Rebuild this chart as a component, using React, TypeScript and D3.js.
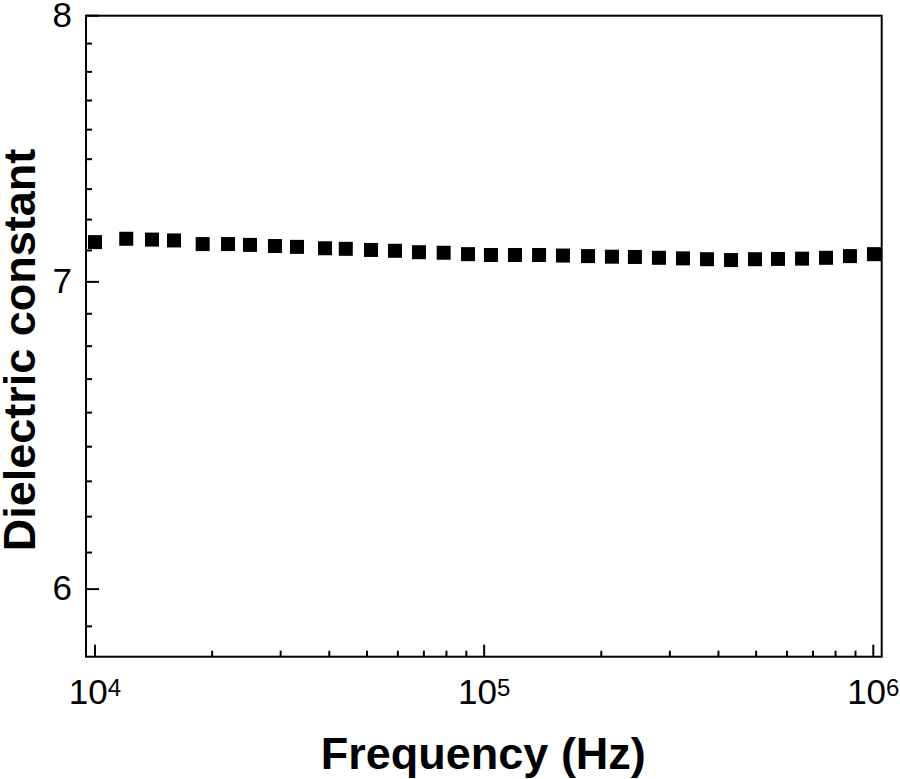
import React, { useEffect, useRef } from 'react';
import * as d3 from 'd3';

const frequencies = [
  1.0e4, 1.203e4, 1.401e4, 1.596e4, 1.891e4, 2.197e4, 2.502e4, 2.9e4, 3.304e4,
  3.9e4, 4.41e4, 5.12e4, 5.9e4, 6.8e4, 7.87e4, 9.09e4, 1.041e5, 1.2e5, 1.384e5,
  1.594e5, 1.849e5, 2.13e5, 2.44e5, 2.813e5, 3.243e5, 3.738e5, 4.31e5, 4.966e5,
  5.69e5, 6.56e5, 7.56e5, 8.71e5, 1.004e6
];

const dielectric = [
  7.141, 7.153, 7.15, 7.147, 7.134, 7.134, 7.131, 7.127, 7.124, 7.119, 7.117,
  7.113, 7.11, 7.105, 7.103, 7.098, 7.095, 7.095, 7.095, 7.093, 7.091, 7.089,
  7.088, 7.085, 7.083, 7.08, 7.077, 7.08, 7.081, 7.082, 7.085, 7.091, 7.098
];

const xDomain = [9481, 1.051e6];
const yDomain = [5.8, 8];
const xMajorTicks = [1e4, 1e5, 1e6];
const yMajorTicks = [6, 7, 8];
const yMinorPerMajor = 8;

const FONT = '"Liberation Sans", Arial, sans-serif';

const App: React.FC = () => {
  const svgRef = useRef<SVGSVGElement>(null);

  useEffect(() => {
    if (!svgRef.current) {
      return;
    }

    const svg = d3.select(svgRef.current);
    svg.selectAll('*').remove();

    const left = 86;
    const right = 881.7;
    const top = 15.7;
    const bottom = 656.7;

    const x = d3.scaleLog().domain(xDomain).range([left, right]);
    const y = d3.scaleLog().domain(yDomain).range([bottom, top]);

    // frame
    svg
      .append('rect')
      .attr('x', left)
      .attr('y', top)
      .attr('width', right - left)
      .attr('height', bottom - top)
      .attr('fill', 'none')
      .attr('stroke', '#000')
      .attr('stroke-width', 2);

    // y minor ticks: 8 subdivisions per unit
    const step = 1 / (yMinorPerMajor + 1);
    const yMinor: number[] = [];
    for (let m = 5; m < 8; m++) {
      for (let k = 1; k <= yMinorPerMajor; k++) {
        const v = m + k * step;
        if (v >= yDomain[0] && v <= yDomain[1]) {
          yMinor.push(v);
        }
      }
    }

    svg
      .append('g')
      .selectAll('line')
      .data(yMinor)
      .enter()
      .append('line')
      .attr('x1', left)
      .attr('x2', left + 6)
      .attr('y1', (d) => y(d))
      .attr('y2', (d) => y(d))
      .attr('stroke', '#000')
      .attr('stroke-width', 2);

    svg
      .append('g')
      .selectAll('line')
      .data(yMajorTicks)
      .enter()
      .append('line')
      .attr('x1', left)
      .attr('x2', left + 13)
      .attr('y1', (d) => y(d))
      .attr('y2', (d) => y(d))
      .attr('stroke', '#000')
      .attr('stroke-width', 2);

    svg
      .append('g')
      .selectAll('text')
      .data(yMajorTicks)
      .enter()
      .append('text')
      .attr('x', left - 14)
      .attr('y', (d) => y(d) + 11)
      .attr('text-anchor', 'end')
      .attr('font-family', FONT)
      .attr('font-size', '35px')
      .attr('fill', '#000')
      .text((d) => String(d));

    // x ticks
    const xMinor = x.ticks().filter((d) => !xMajorTicks.includes(d));

    svg
      .append('g')
      .selectAll('line')
      .data(xMinor)
      .enter()
      .append('line')
      .attr('x1', (d) => x(d))
      .attr('x2', (d) => x(d))
      .attr('y1', bottom)
      .attr('y2', bottom - 6)
      .attr('stroke', '#000')
      .attr('stroke-width', 2);

    svg
      .append('g')
      .selectAll('line')
      .data(xMajorTicks)
      .enter()
      .append('line')
      .attr('x1', (d) => x(d))
      .attr('x2', (d) => x(d))
      .attr('y1', bottom)
      .attr('y2', bottom - 12)
      .attr('stroke', '#000')
      .attr('stroke-width', 2);

    const xLabels = svg
      .append('g')
      .selectAll('text')
      .data(xMajorTicks)
      .enter()
      .append('text')
      .attr('x', (d) => x(d))
      .attr('y', 704)
      .attr('text-anchor', 'middle')
      .attr('font-family', FONT)
      .attr('font-size', '35px')
      .attr('fill', '#000');

    xLabels.append('tspan').text('10');
    xLabels
      .append('tspan')
      .attr('dy', -8)
      .attr('font-size', '24px')
      .text((d) => String(Math.round(Math.log10(d))));

    // data points
    const size = 14;
    svg
      .append('g')
      .selectAll('rect')
      .data(frequencies.map((f, i) => ({ f, v: dielectric[i] })))
      .enter()
      .append('rect')
      .attr('x', (d) => x(d.f) - size / 2)
      .attr('y', (d) => y(d.v) - size / 2)
      .attr('width', size)
      .attr('height', size)
      .attr('fill', '#000');

    // axis titles
    svg
      .append('text')
      .attr('x', (left + right) / 2 - 0.5)
      .attr('y', 768.5)
      .attr('text-anchor', 'middle')
      .attr('font-family', FONT)
      .attr('font-size', '45px')
      .attr('font-weight', '700')
      .attr('fill', '#000')
      .text('Frequency (Hz)');

    svg
      .append('text')
      .attr('transform', `translate(35, 350) rotate(-90)`)
      .attr('text-anchor', 'middle')
      .attr('font-family', FONT)
      .attr('font-size', '45px')
      .attr('font-weight', '700')
      .attr('fill', '#000')
      .text('Dielectric constant');
  }, []);

  return (
    <div style={{ position: 'absolute', left: 0, top: 0, background: '#fff' }}>
      <svg ref={svgRef} width={900} height={779} style={{ display: 'block' }} />
    </div>
  );
};

export default App;
